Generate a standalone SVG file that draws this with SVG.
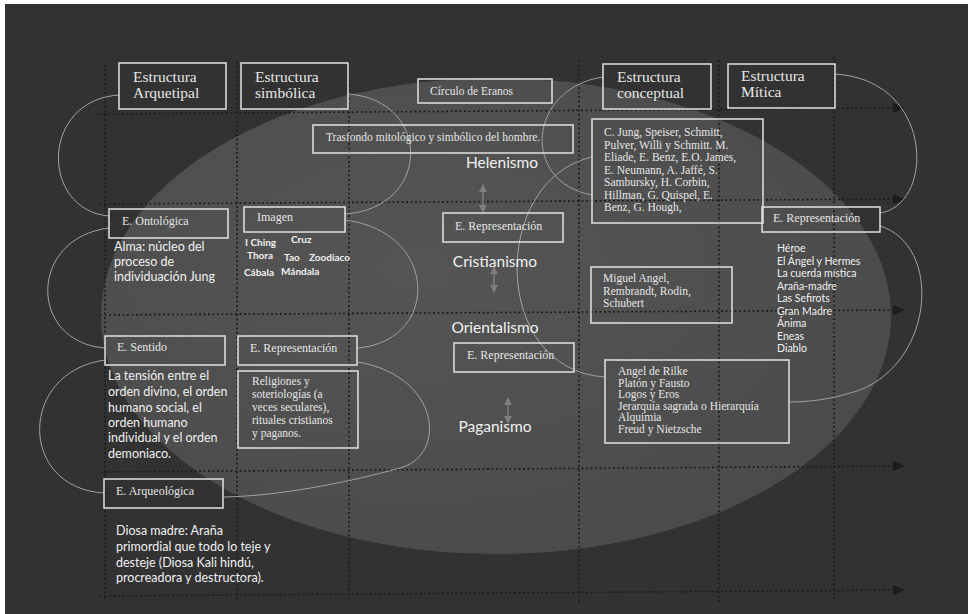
<svg xmlns="http://www.w3.org/2000/svg" width="968" height="614" viewBox="0 0 968 614">
<defs>
<style>
.box{fill:none;stroke:#e2e2e2;stroke-width:1.5}
.ser{font-family:"Liberation Serif","Times New Roman",serif;fill:#e6e6e6}
.sans{font-family:Lato,"Open Sans",sans-serif;fill:#f0f0f0}
.grid{stroke:#1c1c1c;stroke-width:1.6;stroke-dasharray:2 2.5;fill:none}
.arc{fill:none;stroke:#a2a2a2;stroke-width:1}
.dbl{stroke:#7e7e7e;stroke-width:1.5}
</style>
<marker id="ah" viewBox="0 0 12 10" refX="11" refY="5" markerWidth="12" markerHeight="10" markerUnits="userSpaceOnUse" orient="auto"><path d="M0,0 L12,5 L0,10z" fill="#1c1c1c"/></marker>
<marker id="gh" viewBox="0 0 8 8" refX="7" refY="4" markerWidth="8" markerHeight="8" markerUnits="userSpaceOnUse" orient="auto-start-reverse"><path d="M0,0 L8,4 L0,8z" fill="#7e7e7e"/></marker>
<radialGradient id="eg" cx="0.4" cy="0.4" r="0.7"><stop offset="0" stop-color="#555555"/><stop offset="1" stop-color="#4a4a4a"/></radialGradient>
</defs>
<rect x="0" y="0" width="968" height="614" fill="#ffffff"/>
<rect x="5" y="4" width="963" height="610" fill="#323232"/>
<ellipse cx="496" cy="316" rx="395" ry="238" fill="url(#eg)"/>

<g id="grid">
<path class="grid" d="M105,65 V598 M237,62 V600 M349,62 V600 M579,60 V602 M719,60 V602 M834,57 V602"/>
<path class="grid" d="M95,114 L904,108" marker-end="url(#ah)"/>
<path class="grid" d="M100,204 L904,199" marker-end="url(#ah)"/>
<path class="grid" d="M100,315 L904,310" marker-end="url(#ah)"/>
<path class="grid" d="M100,472 L904,466" marker-end="url(#ah)"/>
<path class="grid" d="M100,596 L904,590" marker-end="url(#ah)"/>
</g>

<g id="connectors">
<path class="arc" d="M119,95 C40,100 40,210 109,216"/>
<path class="arc" d="M348,94 C432,100 432,208 345,214"/>
<path class="arc" d="M109,228 C28,238 28,342 105,348"/>
<path class="arc" d="M345,220 C440,232 440,342 357,348"/>
<path class="arc" d="M105,360 C18,372 18,488 104,493"/>
<path class="arc" d="M357,362 C440,375 448,455 400,468 C350,482 280,496 224,497"/>
<path class="arc" d="M603,77 C528,88 520,182 592,195"/>
<path class="arc" d="M592,157 C490,180 490,370 605,377"/>
<path class="arc" d="M835,74 C935,80 935,205 880,213"/>
<path class="arc" d="M880,226 C942,245 935,360 860,390 C830,400 808,402 789,402"/>
<line class="dbl" x1="483" y1="185" x2="483" y2="212" marker-start="url(#gh)" marker-end="url(#gh)"/>
<line class="dbl" x1="494" y1="267" x2="494" y2="292" marker-start="url(#gh)" marker-end="url(#gh)"/>
<line class="dbl" x1="508" y1="398" x2="508" y2="423" marker-start="url(#gh)" marker-end="url(#gh)"/>
</g>

<g id="estructura-arquetipal"><rect class="box" x="119" y="63" width="107" height="46"/><text class="ser" font-size="15.5"><tspan x="133" y="82">Estructura</tspan><tspan x="133" y="98">Arquetipal</tspan></text></g>
<g id="estructura-simbolica"><rect class="box" x="241" y="63" width="107" height="46"/><text class="ser" font-size="15.5"><tspan x="255" y="82">Estructura</tspan><tspan x="255" y="98">simbólica</tspan></text></g>
<g id="estructura-conceptual"><rect class="box" x="603" y="64" width="108" height="45"/><text class="ser" font-size="15.5"><tspan x="617" y="82">Estructura</tspan><tspan x="617" y="98">conceptual</tspan></text></g>
<g id="estructura-mitica"><rect class="box" x="728" y="64" width="107" height="44"/><text class="ser" font-size="15.5"><tspan x="741" y="81">Estructura</tspan><tspan x="741" y="97">Mítica</tspan></text></g>
<g id="circulo-eranos"><rect class="box" x="418" y="79" width="134" height="24"/><text class="ser" font-size="11.5" x="430" y="95">Círculo de Eranos</text></g>
<g id="trasfondo"><rect class="box" x="313" y="125" width="260" height="28"/><text class="ser" font-size="11.5" x="326" y="141">Trasfondo mitológico y simbólico del hombre.</text></g>
<g id="autores"><rect class="box" x="592" y="119" width="171" height="104"/><text class="ser" font-size="11.5"><tspan x="604" y="136">C. Jung, Speiser, Schmitt,</tspan><tspan x="604" y="148.5">Pulver, Willi y Schmitt. M.</tspan><tspan x="604" y="161">Eliade, E. Benz, E.O. James,</tspan><tspan x="604" y="173.5">E. Neumann, A. Jaffé, S.</tspan><tspan x="604" y="186">Sambursky, H. Corbin,</tspan><tspan x="604" y="198.5">Hillman, G. Quispel, E.</tspan><tspan x="604" y="211">Benz, G. Hough,</tspan></text></g>

<g id="helenismo"><text class="sans" font-size="15.5" x="502" y="168" text-anchor="middle">Helenismo</text></g>
<g id="cristianismo"><text class="sans" font-size="15.5" x="495" y="267" text-anchor="middle">Cristianismo</text></g>
<g id="orientalismo"><text class="sans" font-size="15.5" x="495" y="333" text-anchor="middle">Orientalismo</text></g>
<g id="paganismo"><text class="sans" font-size="15.5" x="495" y="432" text-anchor="middle">Paganismo</text></g>

<g id="e-ontologica"><rect class="box" x="109" y="209" width="119" height="29"/><text class="ser" font-size="12" x="122" y="225">E. Ontológica</text><text class="sans" font-size="12.5"><tspan x="114" y="251">Alma: núcleo del</tspan><tspan x="114" y="266">proceso de</tspan><tspan x="114" y="281">individuación Jung</tspan></text></g>
<g id="imagen"><rect class="box" x="244" y="207" width="101" height="25"/><text class="ser" font-size="12" x="257" y="221">Imagen</text><text class="sans" font-size="10" font-weight="bold" fill="#e0e0e0"><tspan x="245" y="246">I Ching</tspan><tspan x="291" y="243">Cruz</tspan><tspan x="247" y="259">Thora</tspan><tspan x="284" y="261">Tao</tspan><tspan x="309" y="261">Zoodiaco</tspan><tspan x="244" y="276">Cábala</tspan><tspan x="281" y="275">Mándala</tspan></text></g>
<g id="e-representacion-1"><rect class="box" x="443" y="213" width="120" height="29"/><text class="ser" font-size="12" x="455" y="230">E. Representación</text></g>
<g id="artistas"><rect class="box" x="591" y="267" width="141" height="56"/><text class="ser" font-size="11.5"><tspan x="603" y="282">Miguel Angel,</tspan><tspan x="603" y="294.5">Rembrandt, Rodin,</tspan><tspan x="603" y="307">Schubert</tspan></text></g>
<g id="e-representacion-mitica"><rect class="box" x="762" y="207" width="118" height="25"/><text class="ser" font-size="12" x="773" y="222">E. Representación</text><text class="sans" font-size="10.5" fill="#dcdcdc"><tspan x="777" y="252">Héroe</tspan><tspan x="777" y="264.5">El Ángel y Hermes</tspan><tspan x="777" y="277">La cuerda mística</tspan><tspan x="777" y="289.5">Araña-madre</tspan><tspan x="777" y="302">Las Sefirots</tspan><tspan x="777" y="314.5">Gran Madre</tspan><tspan x="777" y="327">Ánima</tspan><tspan x="777" y="339.5">Eneas</tspan><tspan x="777" y="352">Diablo</tspan></text></g>
<g id="e-sentido"><rect class="box" x="105" y="336" width="120" height="29"/><text class="ser" font-size="12" x="117" y="351">E. Sentido</text><text class="sans" font-size="12.5"><tspan x="108" y="380">La tensión entre el</tspan><tspan x="108" y="396">orden divino, el orden</tspan><tspan x="108" y="412">humano social, el</tspan><tspan x="108" y="427">orden humano</tspan><tspan x="108" y="442">individual y el orden</tspan><tspan x="108" y="458">demoniaco.</tspan></text></g>
<g id="e-representacion-2"><rect class="box" x="238" y="336" width="119" height="29"/><text class="ser" font-size="12" x="250" y="352">E. Representación</text></g>
<g id="religiones"><rect class="box" x="238" y="371" width="120" height="77"/><text class="ser" font-size="11.5"><tspan x="252" y="385">Religiones y</tspan><tspan x="252" y="398">soteriologías (a</tspan><tspan x="252" y="411">veces seculares),</tspan><tspan x="252" y="424">rituales cristianos</tspan><tspan x="252" y="437">y paganos.</tspan></text></g>
<g id="e-representacion-3"><rect class="box" x="454" y="343" width="120" height="29"/><text class="ser" font-size="12" x="467" y="359">E. Representación</text></g>
<g id="conceptos"><rect class="box" x="605" y="360" width="184" height="83"/><text class="ser" font-size="11.5"><tspan x="618" y="375">Angel de Rilke</tspan><tspan x="618" y="386.5">Platón y Fausto</tspan><tspan x="618" y="398">Logos y Eros</tspan><tspan x="618" y="409.5">Jerarquía sagrada o Hierarquía</tspan><tspan x="618" y="421">Alquimia</tspan><tspan x="618" y="432.5">Freud y Nietzsche</tspan></text></g>
<g id="e-arqueologica"><rect class="box" x="104" y="479" width="119" height="29"/><text class="ser" font-size="12" x="116" y="495">E. Arqueológica</text><text class="sans" font-size="12.5"><tspan x="116" y="535">Diosa madre: Araña</tspan><tspan x="116" y="551">primordial que todo lo teje y</tspan><tspan x="116" y="567">desteje (Diosa Kali hindú,</tspan><tspan x="116" y="582">procreadora y destructora).</tspan></text></g>
</svg>
